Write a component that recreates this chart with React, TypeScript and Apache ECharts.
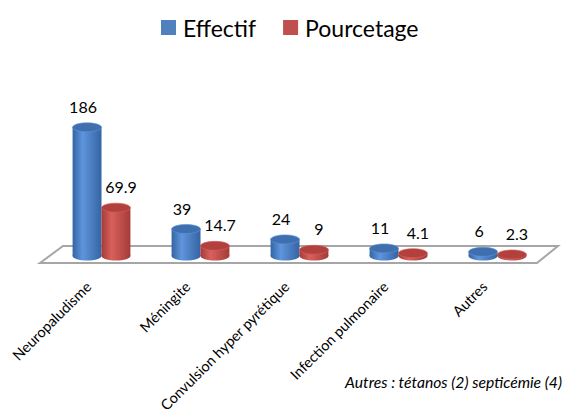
import React, { useEffect, useRef } from "react";
import * as echarts from "echarts";

const categories = ["Neuropaludisme", "Méningite", "Convulsion hyper pyrétique", "Infection pulmonaire", "Autres"];
const effectif = [186, 39, 24, 11, 6];
const pourcentage = [69.9, 14.7, 9, 4.1, 2.3];
const seriesNames = ["Effectif", "Pourcetage"];
const note = "Autres : tétanos (2) septicémie (4)";

const FONT = "Lato, 'Open Sans', sans-serif";

const palette = [
  { base: "#4F81BD", dark: "#3464a3", light: "#5f95dc", top: "#3f6fae", bottom: "#35639e" },
  { base: "#C0504D", dark: "#a43b38", light: "#d9605c", top: "#b2413e", bottom: "#9e3734" },
];

function cylinderRender(si: number) {
  const c = palette[si];
  return (params: any, api: any) => {
    const idx = api.value(0);
    const val = api.value(1);
    const band = api.size([1, 0])[0];
    const top = api.coord([idx, val]);
    const zero = api.coord([idx, 0]);
    const off = band * 0.146;
    const cx = zero[0] + (si === 0 ? -off : off);
    const rx = band * 0.146;
    const ry = 4.5;
    const y0 = zero[1];
    const yt = top[1];
    const bodyGrad = new echarts.graphic.LinearGradient(0, 0, 1, 0, [
      { offset: 0, color: c.dark },
      { offset: 0.35, color: c.light },
      { offset: 1, color: c.dark },
    ]);
    return {
      type: "group",
      children: [
        { type: "ellipse", shape: { cx, cy: y0, rx, ry }, style: { fill: bodyGrad } },
        { type: "rect", shape: { x: cx - rx, y: yt, width: rx * 2, height: Math.max(0, y0 - yt) }, style: { fill: bodyGrad } },
        {
          type: "ellipse",
          shape: { cx, cy: yt, rx, ry },
          style: { fill: c.top, stroke: c.light, lineWidth: 0.6 },
        },
        {
          type: "text",
          x: cx + (si === 0 ? -4 : 5),
          y: yt - 21,
          style: {
            text: String(val),
            fill: "#000",
            font: `16px ${FONT}`,
            align: "center",
            verticalAlign: "middle",
          },
        },
      ],
    };
  };
}

export default function App() {
  const ref = useRef<HTMLDivElement>(null);
  useEffect(() => {
    if (!ref.current) return;
    const chart = echarts.init(ref.current, undefined, { renderer: "svg" });
    const floorData = [[0, 0]];
    chart.setOption({
      animation: false,
      backgroundColor: "#ffffff",
      legend: {
        data: seriesNames,
        left: 156,
        top: 11,
        icon: "rect",
        itemWidth: 15,
        itemHeight: 15,
        itemGap: 27,
        textStyle: { fontSize: 23, fontFamily: FONT, color: "#000", padding: [0, 0, 0, 2] },
      },
      grid: { left: 52, right: 17, top: 83, bottom: 154, containLabel: false, outerBoundsMode: "none" },
      xAxis: {
        type: "category",
        data: categories,
        axisLine: { show: false },
        axisTick: { show: false },
        axisLabel: { show: false },
      },
      yAxis: { type: "value", min: 0, max: 250, show: false },
      series: [
        {
          type: "custom",
          name: "floor",
          silent: true,
          data: floorData,
          renderItem: (params: any, api: any) => {
            const band = api.size([1, 0])[0];
            const first = api.coord([0, 0]);
            const last = api.coord([categories.length - 1, 0]);
            const l = first[0] - band / 2;
            const r = last[0] + band / 2;
            const y = first[1];
            const labels = categories.map((name, i) => {
              const p = api.coord([i, 0]);
              return {
                type: "text",
                x: p[0] - 13,
                y: p[1] + 28,
                rotation: Math.PI / 4,
                style: {
                  text: name,
                  fill: "#000",
                  font: `14.5px ${FONT}`,
                  align: "right",
                  verticalAlign: "middle",
                },
              };
            });
            return {
              type: "group",
              children: [
                {
                  type: "polygon",
                  shape: {
                    points: [
                      [l + 11, y - 10],
                      [r + 11, y - 10],
                      [r - 10, y + 7],
                      [l - 12, y + 7],
                    ],
                  },
                  style: { fill: "#ffffff", stroke: "#a6a6a6", lineWidth: 2 },
                },
                ...labels,
              ],
            };
          },
          z: 1,
        },
        {
          type: "custom",
          name: seriesNames[0],
          itemStyle: { color: palette[0].base },
          data: effectif.map((v, i) => [i, v]),
          renderItem: cylinderRender(0),
          z: 2,
        },
        {
          type: "custom",
          name: seriesNames[1],
          itemStyle: { color: palette[1].base },
          data: pourcentage.map((v, i) => [i, v]),
          renderItem: cylinderRender(1),
          z: 2,
        },
      ],
      graphic: [
        {
          type: "text",
          x: 562,
          y: 382,
          style: {
            text: note,
            fill: "#000",
            font: `italic 15.7px ${FONT}`,
            align: "right",
            verticalAlign: "middle",
          },
        },
      ],
    });
    return () => chart.dispose();
  }, []);
  return <div ref={ref} style={{ position: "absolute", left: 0, top: 0, width: 564, height: 410 }} />;
}
